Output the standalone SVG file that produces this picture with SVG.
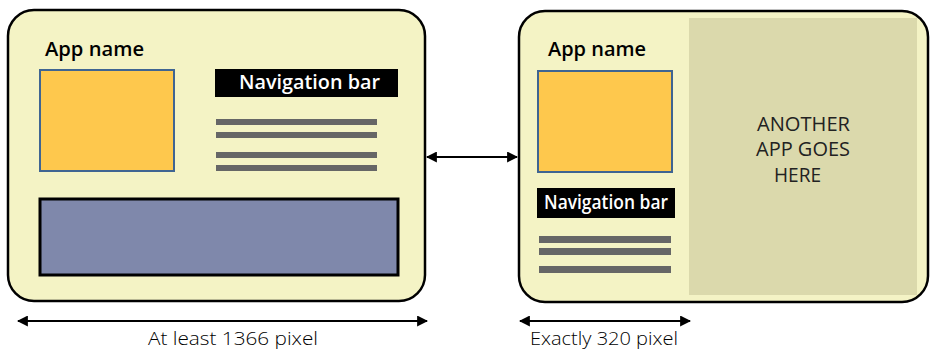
<svg xmlns="http://www.w3.org/2000/svg" width="930" height="351" viewBox="0 0 930 351">
<style>
.panel{fill:#f4f3c5;stroke:#000;stroke-width:2.5}
.img{fill:#fec84d;stroke:#3f6592;stroke-width:2}
.nav{fill:#000}
.navt{font-family:"Open Sans","Noto Sans",sans-serif;font-weight:600;font-size:20px;fill:#fff}
.name{font-family:"Open Sans","Noto Sans",sans-serif;font-weight:600;font-size:20px;fill:#000}
.line{fill:#666}
.other{font-family:"Open Sans","Noto Sans",sans-serif;font-size:20px;fill:#222}
.cap{font-family:"Open Sans","Noto Sans",sans-serif;font-weight:300;font-size:18px;fill:#000}
.conn{stroke:#000;stroke-width:2;fill:none;marker-start:url(#ah);marker-end:url(#ah)}
</style>
<defs>
<marker id="ah" viewBox="0 0 10 10" refX="9" refY="5" markerWidth="5.5" markerHeight="5.5" orient="auto-start-reverse">
<path d="M0,0 L10,5 L0,10 z" fill="#000"/>
</marker>
</defs>
<g id="left-panel">
<rect class="panel" x="8" y="10" width="417" height="291" rx="26"/>
<text class="name" x="45" y="56" textLength="99" lengthAdjust="spacingAndGlyphs">App name</text>
<rect class="img" x="40" y="70" width="134" height="101"/>
<rect class="nav" x="215" y="69" width="183" height="28"/>
<text class="navt" x="239" y="89" textLength="141" lengthAdjust="spacingAndGlyphs">Navigation bar</text>
<rect class="line" x="216" y="119" width="161" height="6"/>
<rect class="line" x="216" y="132" width="161" height="6"/>
<rect class="line" x="216" y="152" width="161" height="6"/>
<rect class="line" x="216" y="165" width="161" height="6"/>
<rect x="40" y="199" width="358" height="76" fill="#7f88ab" stroke="#000" stroke-width="3"/>
</g>
<g id="right-panel">
<rect class="panel" x="519" y="11" width="409" height="291" rx="26"/>
<rect x="689" y="18" width="228" height="277" fill="#dbd9ac"/>
<text class="name" x="548" y="56" textLength="98" lengthAdjust="spacingAndGlyphs">App name</text>
<rect class="img" x="538" y="71" width="134" height="101"/>
<rect class="nav" x="537" y="188" width="138" height="30"/>
<text class="navt" x="544" y="209" font-size="18" textLength="124" lengthAdjust="spacingAndGlyphs">Navigation bar</text>
<rect class="line" x="539" y="236" width="132" height="7"/>
<rect class="line" x="539" y="248" width="132" height="7"/>
<rect class="line" x="539" y="266" width="132" height="7"/>
<text class="other" x="757" y="131" textLength="93" lengthAdjust="spacingAndGlyphs">ANOTHER</text>
<text class="other" x="756" y="156" textLength="94" lengthAdjust="spacingAndGlyphs">APP GOES</text>
<text class="other" x="774" y="182" textLength="47" lengthAdjust="spacingAndGlyphs">HERE</text>
</g>
<g id="connectors">
<line class="conn" x1="427" y1="157" x2="517" y2="157"/>
<line class="conn" x1="18" y1="321" x2="427" y2="321"/>
<line class="conn" x1="520" y1="321" x2="690" y2="321"/>
</g>
<g id="labels">
<text class="cap" x="148" y="345" textLength="170" lengthAdjust="spacingAndGlyphs">At least 1366 pixel</text>
<text class="cap" x="530" y="345" textLength="148" lengthAdjust="spacingAndGlyphs">Exactly 320 pixel</text>
</g>
</svg>
